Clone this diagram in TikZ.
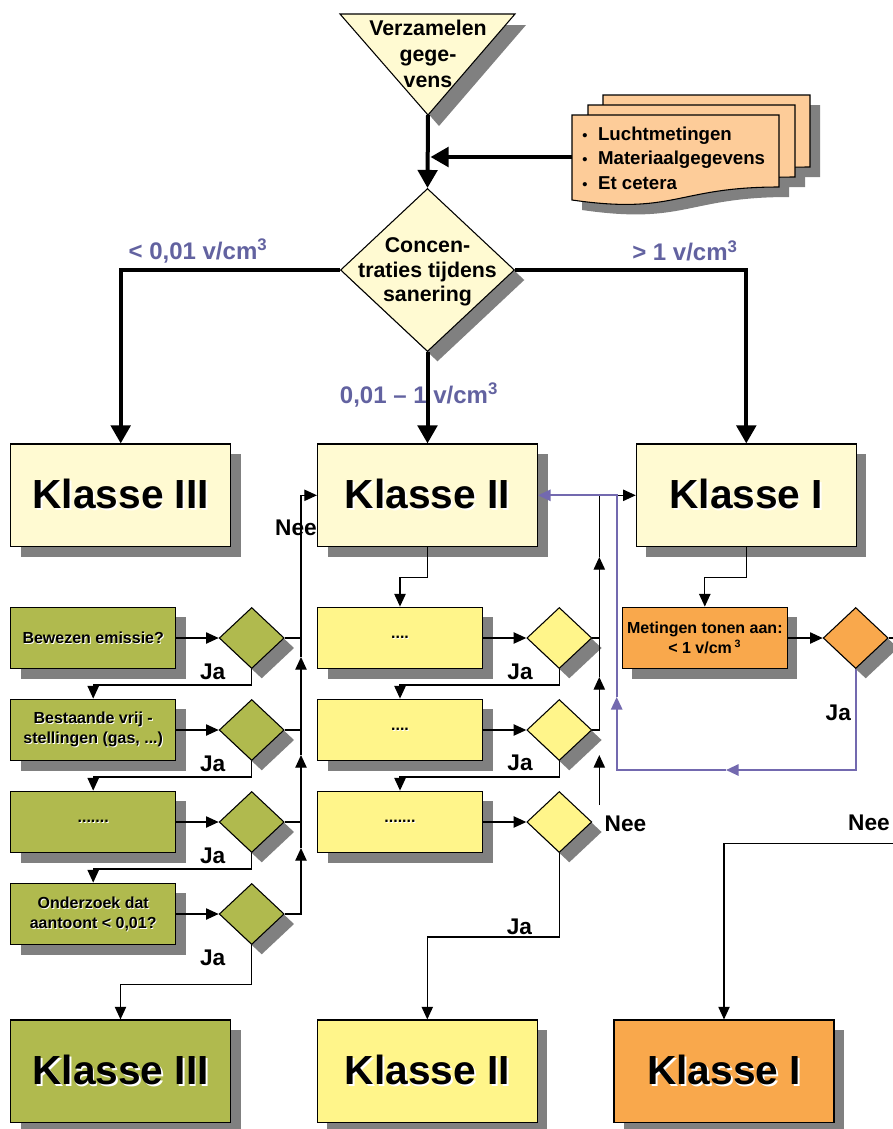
\documentclass[tikz,border=0pt]{standalone}
\usepackage{fontspec}
\setmainfont{Liberation Sans}
\usetikzlibrary{shapes.geometric,arrows.meta,shadows}
\definecolor{cream}{RGB}{255,250,210}
\definecolor{olive}{RGB}{176,186,78}
\definecolor{lyellow}{RGB}{255,245,138}
\definecolor{orng}{RGB}{249,168,76}
\definecolor{peach}{RGB}{253,204,153}
\definecolor{shgray}{RGB}{128,128,128}
\definecolor{labcol}{RGB}{98,98,160}
\definecolor{purpline}{RGB}{115,105,175}
\newcommand\embbig[1]{\makebox[0pt][l]{\hspace{1.4pt}\raisebox{-1.4pt}{\textcolor{white}{#1}}}#1}
\newcommand\embsm[1]{\makebox[0pt][l]{\hspace{0.7pt}\raisebox{-0.7pt}{\textcolor{white}{#1}}}#1}
\begin{document}
\begin{tikzpicture}[x=0.75pt,y=-0.75pt,
  shadowed/.style={drop shadow={shadow xshift=7.5pt,shadow yshift=-7.5pt,fill=shgray,opacity=1}},
  kbox/.style={draw=black,line width=0.8pt,minimum width=165pt,minimum height=77pt,inner sep=0pt,
    font=\fontsize{30.5}{33}\selectfont\bfseries,shadowed},
  sbox/.style={draw=black,line width=0.8pt,minimum width=123.75pt,minimum height=46.3pt,inner sep=0pt,
    align=center,font=\fontsize{12}{15}\selectfont\bfseries,shadowed},
  dia/.style={diamond,draw=black,line width=0.8pt,minimum width=48.75pt,minimum height=45.75pt,
    inner sep=0pt,shadowed},
  bigdia/.style={diamond,draw=black,line width=0.8pt,minimum width=130.5pt,minimum height=122.25pt,
    inner sep=0pt,fill=cream,shadowed},
  maintext/.style={align=center,inner sep=0pt,font=\fontsize{16}{18.5}\selectfont\bfseries},
  lab/.style={text=labcol,inner sep=0pt,font=\fontsize{18}{21}\selectfont\bfseries},
  jalab/.style={inner sep=0pt,font=\fontsize{17}{20}\selectfont\bfseries},
  Tarr/.style={line width=3pt,-{Triangle[length=13.5pt,width=14.5pt]}},
  tarr/.style={line width=0.95pt,-{Triangle[length=9.5pt,width=8.5pt]}},
  tline/.style={line width=0.95pt},
  parr/.style={line width=1.5pt,draw=purpline,-{Triangle[length=9.5pt,width=8.5pt]}}
]
\useasboundingbox (0,0) rectangle (893,1129);
\clip (0,0) rectangle (893,1129);
\fill[white] (0,0) rectangle (893,1129);

% ---------- top triangle ----------
\fill[shgray] (351,25) -- (526,25) -- (439,126) -- cycle;
\filldraw[fill=cream,draw=black,line width=0.8pt] (340,14) -- (515,14) -- (428,115) -- cycle;
\node[maintext,font=\fontsize{16}{19.5}\selectfont\bfseries] (verz) at (428,54) {Verzamelen\\gege-\\vens};
\coordinate (verzApex) at (428,115);

% ---------- document stack ----------
\foreach \a/\b in {603/95,588/105,572/115}{
  \fill[shgray,shift={(\a+10,\b+10)}] (0,0) -- (207,0) -- (207,72) .. controls (104,72) and (104,100) .. (0,85) -- cycle;
}
\foreach \a/\b in {603/95,588/105,572/115}{
  \filldraw[fill=peach,draw=black,line width=0.8pt,shift={(\a,\b)}] (0,0) -- (207,0) -- (207,72) .. controls (104,72) and (104,100) .. (0,85) -- cycle;
}
\node[anchor=west,align=left,inner sep=0pt,font=\fontsize{14}{18.5}\selectfont\bfseries] (doctxt) at (582,158)
  {{\fontsize{11}{11}\selectfont\textbullet}\hspace{8pt}Luchtmetingen\\{\fontsize{11}{11}\selectfont\textbullet}\hspace{8pt}Materiaalgegevens\\{\fontsize{11}{11}\selectfont\textbullet}\hspace{8pt}Et cetera};
\coordinate (docL) at (572,157);
\coordinate (docJoin) at (430.5,157);

% ---------- main diamond ----------
\node[bigdia] (conc) at (427.5,270) {};
\node[maintext] (conctxt) at (427.5,272) {Concen-\\traties tijdens\\sanering};

% ---------- Klasse row 1 ----------
\node[kbox,fill=cream] (K3) at (120.7,495.3) {\embbig{Klasse III}};
\node[kbox,fill=cream] (K2) at (427.5,495.3) {\embbig{Klasse II}};
\node[kbox,fill=cream] (K1) at (746.3,495.3) {\embbig{Klasse I}};

% ---------- thick connectors ----------
\draw[Tarr] (verzApex) -- (conc.north);
\draw[Tarr] (docL) -- (docJoin);
\draw[Tarr] (conc.west) -| (K3.north);
\draw[Tarr] (conc.east) -| (K1.north);
\draw[Tarr] (conc.south) -- (K2.north);

\node[lab] (labL) at (198,251) {< 0,01 v/cm\textsuperscript{3}};
\node[lab] (labR) at (685,251) {> 1 v/cm\textsuperscript{3}};
\node[lab] (labM) at (419,395) {0,01 – 1 v/cm\textsuperscript{3}};

% ---------- green column ----------
\node[sbox,fill=olive] (g1) at (93.2,638) {\embsm{Bewezen emissie?}};
\node[sbox,fill=olive] (g2) at (93.2,730) {\embsm{Bestaande vrij -}\\\embsm{stellingen (gas, ...)}};
\node[sbox,fill=olive] (g3) at (93.2,822) {\embsm{.......}};
\node[sbox,fill=olive] (g4) at (93.2,914) {\embsm{Onderzoek dat}\\\embsm{aantoont < 0,01?}};
\node[dia,fill=olive] (gd1) at (251.7,638) {};
\node[dia,fill=olive] (gd2) at (251.7,730) {};
\node[dia,fill=olive] (gd3) at (251.7,822) {};
\node[dia,fill=olive] (gd4) at (251.7,914) {};

% ---------- yellow column ----------
\node[sbox,fill=lyellow] (y1) at (400,638) {\embsm{....}};
\node[sbox,fill=lyellow] (y2) at (400,730) {\embsm{....}};
\node[sbox,fill=lyellow] (y3) at (400,822) {\embsm{.......}};
\node[dia,fill=lyellow] (yd1) at (559.3,638) {};
\node[dia,fill=lyellow] (yd2) at (559.3,730) {};
\node[dia,fill=lyellow] (yd3) at (559.3,822) {};

% ---------- orange column ----------
\node[sbox,fill=orng] (o1) at (704.8,638) {Metingen tonen aan:\\< 1 v/cm\,\textsuperscript{3}};
\node[dia,fill=orng] (od) at (855.7,638) {};

% ---------- bottom row ----------
\node[kbox,fill=olive] (K3b) at (120.5,1071.3) {\embbig{Klasse III}};
\node[kbox,fill=lyellow] (K2b) at (427.3,1071.3) {\embbig{Klasse II}};
\node[kbox,fill=orng] (K1b) at (724,1071.3) {\embbig{Klasse I}};

% ---------- green connectors ----------
\foreach \i in {1,2,3,4}{ \draw[tarr] (g\i.east) -- (gd\i.west); }
\coordinate (gA) at (301,657);
\coordinate (gB) at (301,755);
\coordinate (gC) at (301,848);
\draw[tline] (gd1.east) -- (gd1.east -| gA);
\draw[tline] (gd2.east) -- (gd2.east -| gA);
\draw[tline] (gd3.east) -- (gd3.east -| gA);
\draw[tarr] (gd4.east) -| (gC);
\draw[tarr] (gC) -- (gB);
\draw[tarr] (gB) -- (gA);
\draw[tarr] (gA) |- (K2.west);
\draw[tarr] (gd1.south) -- ++(0,16) -| (g2.north);
\draw[tarr] (gd2.south) -- ++(0,16) -| (g3.north);
\draw[tarr] (gd3.south) -- ++(0,16) -| (g4.north);
\draw[tarr] (gd4.south) -- ++(0,39.5) -| (K3b.north);

% ---------- yellow connectors ----------
\foreach \i in {1,2,3}{ \draw[tarr] (y\i.east) -- (yd\i.west); }
\draw[tarr] (K2.south) -- ++(0,30) -| (y1.north);
\coordinate (mA) at (599.3,557);
\coordinate (mB) at (599.3,677);
\draw[tline] (yd1.east) -- (yd1.east -| mA);
\draw[tarr] (yd2.east) -| (mB);
\draw[tarr] (mB) -- (mA);
\draw[tarr] (mA) |- (K1.west);
\coordinate (neeS) at (599.3,805);
\coordinate (neeE) at (599.3,755);
\draw[tarr] (neeS) -- (neeE);
\draw[tarr] (yd1.south) -- ++(0,16) -| (y2.north);
\draw[tarr] (yd2.south) -- ++(0,16) -| (y3.north);
\draw[tarr] (yd3.south) -- ++(0,84) -| (K2b.north);

% ---------- orange connectors ----------
\draw[tarr] (K1.south) -- ++(0,30) -| (o1.north);
\draw[tarr] (o1.east) -- (od.west);
\coordinate (offR) at (910,638);
\coordinate (offB) at (910,843.5);
\draw[tarr] (od.east) -- (offR) -- (offB) -| (K1b.north);
\coordinate (pA) at (726,770);
\coordinate (pB) at (616.7,697);
\draw[parr] (od.south) |- (pA);
\draw[parr] (pA) -| (pB);
\draw[parr] (pB) |- (K2.east);

% ---------- Ja / Nee labels ----------
\node[jalab] (nee1) at (296,528) {Nee};
\node[jalab] (nee2) at (625.5,824) {Nee};
\node[jalab] (nee3) at (869,823.3) {Nee};
\node[jalab] (ja1) at (212.7,672) {Ja};
\node[jalab] (ja2) at (212.7,764) {Ja};
\node[jalab] (ja3) at (212.7,856) {Ja};
\node[jalab] (ja4) at (212.7,958) {Ja};
\node[jalab] (ja5) at (520,672) {Ja};
\node[jalab] (ja6) at (520,763) {Ja};
\node[jalab] (ja7) at (519.4,926.7) {Ja};
\node[jalab] (ja8) at (838.3,713.3) {Ja};
\end{tikzpicture}
\end{document}
